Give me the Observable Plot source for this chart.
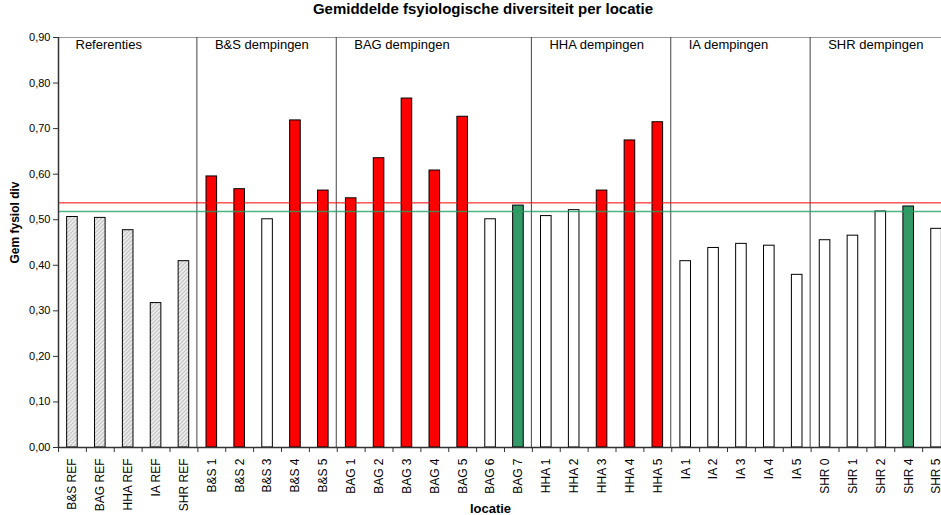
<!DOCTYPE html>
<html>
<head>
<meta charset="utf-8">
<script src="https://cdn.jsdelivr.net/npm/d3@7"></script>
<script src="https://cdn.jsdelivr.net/npm/@observablehq/plot@0.6"></script>
<style>
  html, body { margin: 0; padding: 0; background: #fff; }
  #title { width: 941px; height: 28px; line-height: 28px; box-sizing: border-box; padding-left: 25px;
           text-align: center; font: bold 15px Arial, "Liberation Sans", sans-serif; color: #000; }
  #chart svg { display: block; overflow: hidden; }
</style>
</head>
<body>
<div id="title">Gemiddelde fsyiologische diversiteit per locatie</div>
<div id="chart"></div>
<script>
const categories = [
  "B&S REF", "BAG REF", "HHA REF", "IA REF", "SHR REF",
  "B&S 1", "B&S 2", "B&S 3", "B&S 4", "B&S 5",
  "BAG 1", "BAG 2", "BAG 3", "BAG 4", "BAG 5", "BAG 6", "BAG 7",
  "HHA 1", "HHA 2", "HHA 3", "HHA 4", "HHA 5",
  "IA 1", "IA 2", "IA 3", "IA 4", "IA 5",
  "SHR 0", "SHR 1", "SHR 2", "SHR 4", "SHR 5"
];
const values = [
  0.506, 0.504, 0.477, 0.317, 0.409,
  0.595, 0.567, 0.501, 0.718, 0.564,
  0.547, 0.635, 0.766, 0.608, 0.726, 0.501, 0.531,
  0.508, 0.521, 0.564, 0.674, 0.714,
  0.409, 0.438, 0.447, 0.443, 0.379,
  0.455, 0.465, 0.518, 0.529, 0.480
];
const kinds = [
  "ref", "ref", "ref", "ref", "ref",
  "hoog", "hoog", "laag", "hoog", "hoog",
  "hoog", "hoog", "hoog", "hoog", "hoog", "laag", "gelijk",
  "laag", "laag", "hoog", "hoog", "hoog",
  "laag", "laag", "laag", "laag", "laag",
  "laag", "laag", "laag", "gelijk", "laag"
];
const groups = ["Referenties", "B&S dempingen", "BAG dempingen", "HHA dempingen", "IA dempingen", "SHR dempingen"];
const groupStarts = ["B&S REF", "B&S 1", "BAG 1", "HHA 1", "IA 1", "SHR 0"];
const refLineRed = [0.537];
const refLineGreen = [0.518];
const yTicks = [0, 0.1, 0.2, 0.3, 0.4, 0.5, 0.6, 0.7, 0.8, 0.9];
const yTickFormat = d => d3.format(".2f")(d).replace(".", ",");

const data = categories.map((c, i) => ({cat: c, value: values[i], kind: kinds[i]}));
const groupData = groups.map((g, i) => ({name: g, start: groupStarts[i]}));

const left = 58, right = 950;
const step = (right - left) / categories.length;
const font = "Arial, 'Liberation Sans', sans-serif";

const svg = Plot.plot({
  width: 941,
  height: 487,
  marginLeft: left,
  marginRight: 0,
  marginTop: 9,
  marginBottom: 68,
  style: {fontFamily: font, fontSize: "11px", background: "white", color: "#000"},
  x: {type: "band", domain: categories, range: [left, right], paddingInner: 0.62, paddingOuter: 0.31, round: false, label: null},
  y: {domain: [0, 0.9], label: null},
  color: {type: "ordinal", domain: ["ref", "hoog", "laag", "gelijk"], range: ["url(#hatch)", "#ff0000", "#ffffff", "#339966"]},
  marks: [
    Plot.ruleY([0.9], {stroke: "#999"}),
    Plot.ruleX(groupStarts.slice(1), {x: d => d, y1: 0, y2: 0.9, dx: -step / 2 - 1, stroke: "#444"}),
    Plot.barY(data, {x: "cat", y: "value", fill: "kind", stroke: "#000", strokeWidth: 1}),
    Plot.ruleY(refLineRed, {stroke: "#ff0000"}),
    Plot.ruleY(refLineGreen, {stroke: "#22a060", strokeWidth: 1.5, strokeOpacity: 0.8}),
    Plot.ruleX([categories[0]], {y1: 0, y2: 0.9, dx: -step / 2, stroke: "#333", strokeWidth: 1.5}),
    Plot.ruleY([0], {stroke: "#333", strokeWidth: 1.5}),
    Plot.ruleX(categories, {y1: 0, y2: 0, insetBottom: -5, dx: -step / 2, stroke: "#333"}),
    Plot.axisX({tickSize: 0, tickPadding: 11, tickRotate: -90, fontSize: 12, label: null}),
    Plot.axisY({ticks: yTicks, tickFormat: yTickFormat, tickSize: 5, tickPadding: 3, fontSize: 11, label: null, stroke: "#333"}),
    Plot.text(groupData, {x: "start", y: () => 0.9, text: "name", dx: 3 - step / 2 + 14, dy: 7, textAnchor: "start", lineAnchor: "middle", fontSize: 13}),
    Plot.text(["Gem fysiol div"], {frameAnchor: "left", rotate: -90, dx: -43, dy: -20, textAnchor: "middle", lineAnchor: "middle", fontWeight: "bold", fontSize: 12}),
    Plot.text(["locatie"], {frameAnchor: "bottom", dx: -9.5, dy: 61, textAnchor: "middle", lineAnchor: "middle", fontWeight: "bold", fontSize: 13})
  ]
});

const sel = d3.select(svg);
const defs = sel.insert("defs", ":first-child");
const pat = defs.append("pattern").attr("id", "hatch").attr("patternUnits", "userSpaceOnUse")
  .attr("width", 4).attr("height", 4);
pat.append("rect").attr("width", 4).attr("height", 4).attr("fill", "#f2f2f2");
pat.append("path").attr("d", "M-1,1 l2,-2 M0,4 l4,-4 M3,5 l2,-2")
  .attr("stroke", "#c8c8c8").attr("stroke-width", 1.5);

document.getElementById("chart").appendChild(svg);
</script>
</body>
</html>
